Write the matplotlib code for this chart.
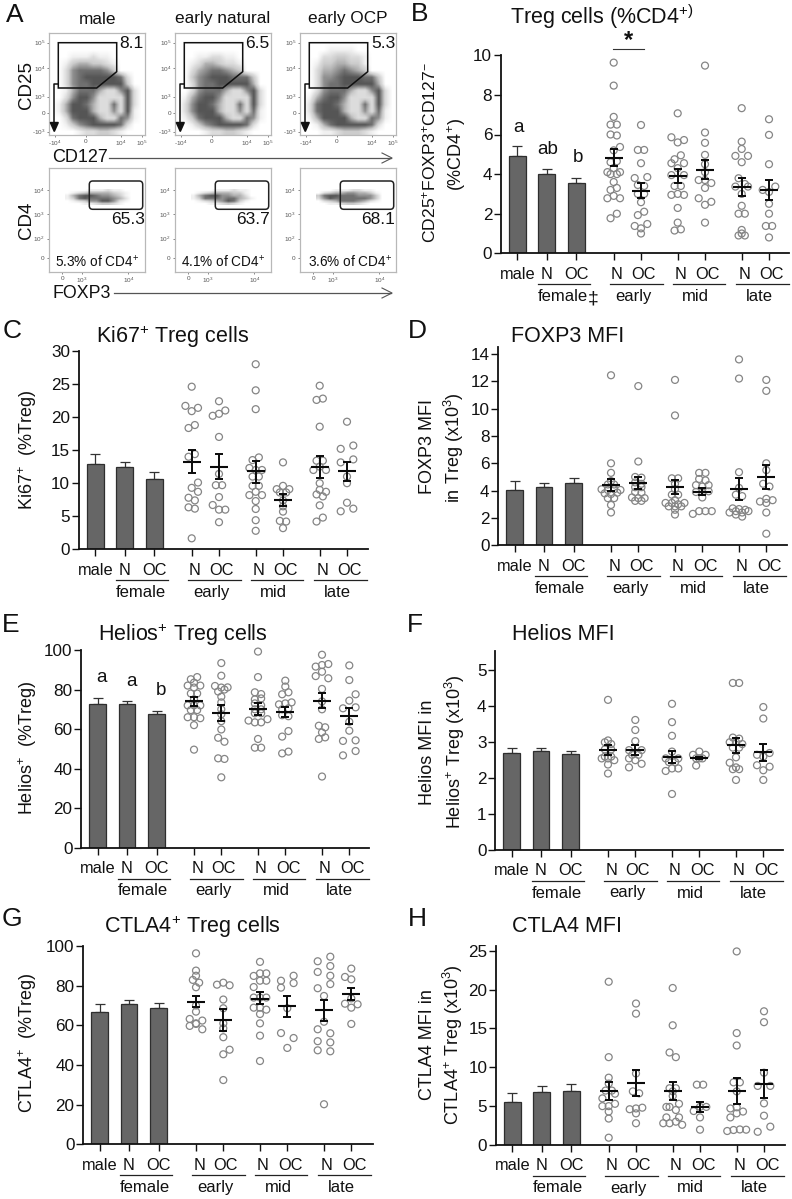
import matplotlib
matplotlib.use("Agg")
import matplotlib.pyplot as plt
import numpy as np
from matplotlib.colors import LinearSegmentedColormap
from matplotlib.patches import FancyBboxPatch, Polygon
from matplotlib.transforms import ScaledTranslation

plt.rcParams['font.family'] = ['Liberation Sans', 'DejaVu Sans']
plt.rcParams['mathtext.fontset'] = 'custom'
plt.rcParams['mathtext.rm'] = 'Liberation Sans'
plt.rcParams['mathtext.it'] = 'Liberation Sans:italic'
plt.rcParams['mathtext.bf'] = 'Liberation Sans:bold'
plt.rcParams['mathtext.default'] = 'regular'

W, H = 792, 1199
TICK_LABELS = ['male', 'N', 'OC', 'N', 'OC', 'N', 'OC', 'N', 'OC']
GROUP_NAMES = ['female', 'early', 'mid', 'late']

# ---------- data: bars (mean, top of error) ----------
B_BAR = [4.93, 4.03, 3.53];  B_BAR_TOP = [5.4, 4.25, 3.8]
C_BAR = [12.85, 12.45, 10.7]; C_BAR_TOP = [14.35, 13.25, 11.65]
D_BAR = [4.08, 4.25, 4.55];  D_BAR_TOP = [4.68, 4.55, 4.9]
E_BAR = [72.5, 72.7, 67.6];  E_BAR_TOP = [75.8, 74.2, 69.0]
F_BAR = [2.70, 2.76, 2.68];  F_BAR_TOP = [2.85, 2.83, 2.76]
G_BAR = [66.5, 70.7, 68.5];  G_BAR_TOP = [70.5, 72.8, 71.5]
H_BAR = [5.5, 6.85, 6.95];   H_BAR_TOP = [6.7, 7.55, 7.9]

# ---------- data: mean, low, high of each scatter group ----------
B_MEAN = [4.8, 3.17, 3.88, 4.22, 3.35, 3.2]
B_LOW = [4.4, 2.8, 3.55, 3.75, 2.9, 2.7]
B_HIGH = [5.25, 3.55, 4.25, 4.7, 3.8, 3.7]
C_MEAN = [13.2, 12.5, 11.8, 7.4, 12.5, 11.8]
C_LOW = [11.5, 10.6, 10.1, 6.5, 10.8, 10.4]
C_HIGH = [15.0, 14.4, 13.4, 8.3, 14.1, 13.2]
D_MEAN = [4.4, 4.55, 4.3, 3.92, 4.12, 5.0]
D_LOW = [3.95, 4.1, 3.75, 3.7, 3.3, 4.1]
D_HIGH = [4.85, 5.0, 4.8, 4.2, 4.95, 5.9]
E_MEAN = [74.3, 68.0, 70.2, 68.8, 74.3, 66.6]
E_LOW = [71.8, 64.0, 67.0, 66.0, 70.5, 62.5]
E_HIGH = [76.3, 72.0, 73.0, 71.3, 78.3, 70.7]
F_MEAN = [2.78, 2.78, 2.6, 2.56, 2.92, 2.72]
F_LOW = [2.65, 2.65, 2.43, 2.53, 2.7, 2.47]
F_HIGH = [2.92, 2.92, 2.75, 2.6, 3.12, 2.95]
G_MEAN = [72.0, 62.5, 73.5, 69.5, 67.5, 76.0]
G_LOW = [69.0, 57.0, 70.5, 64.0, 62.0, 73.0]
G_HIGH = [75.0, 68.0, 76.8, 74.8, 73.0, 79.0]
H_MEAN = [7.0, 7.95, 6.9, 4.85, 7.0, 7.85]
H_LOW = [5.85, 6.25, 5.75, 4.2, 5.3, 6.05]
H_HIGH = [8.1, 9.6, 8.1, 5.5, 8.6, 9.65]

# ---------- data: individual values, row by row (None = empty slot in a row) ----------
B_POINTS = [
    [[9.63], [8.47], [6.89], [6.5, 6.5], [6.0, 5.95], [None, None, 5.37], [5.2], [4.6, 4.65], [4.1, 4.3, 4.1],
     [4.0, 4.0], [3.6], [3.2, 3.3], [2.78, 2.9, 2.78], [1.77, 2.0]],
    [[6.48], [5.22, 5.22], [4.55], [3.8, None, 3.85], [3.45, 3.4], [3.0, 3.0], [2.58], [1.93, 2.1],
     [1.38, 1.26, 1.48], [1.0]],
    [[7.07], [5.86, 5.6, 5.72], [4.75, 4.95], [4.55, 4.3, 4.55], [3.95, None, 3.95], [3.4, 3.4], [2.95, 3.0, 2.95],
     [2.29], [1.55], [1.15, 1.21]],
    [[9.48], [6.1], [5.58], [4.97], [4.5], [4.1], [3.7, 3.7, 3.55], [3.3], [2.78, None, 2.6], [2.45], [1.55]],
    [[7.33], [5.64], [5.27], [4.92, None, 4.92], [4.6], [3.79, 3.5], [3.37, None, 3.37], [3.0], [2.4], [2.0, 2.0],
     [1.18], [0.9, 0.9], [1.0]],
    [[6.77], [5.98], [4.5], [3.2, 3.1, 3.37], [2.5], [2.0], [1.38, 1.38], [0.8]],
]
C_POINTS = [
    [[24.6], [21.7, 20.9, 21.4], [18.35, 18.8], [14.0, 14.4], [None, None, 10.1], [None, 9.3, 8.7], [7.8, 7.4],
     [6.35, 6.15], [1.66]],
    [[22.4], [20.2, 20.5, 21.0], [17.0], [11.4], [9.7, 9.7], [7.9], [6.7, 6.0, 6.0], [4.1]],
    [[28.0], [24.05], [21.2], [13.5, 13.9], [12.3, 12.0, 12.0], [11.0, 11.0], [9.6, 9.6], [8.2, 8.7, 8.2],
     [7.3], [6.1], [4.4], [2.8]],
    [[13.15], [9.1, 9.6, 9.1], [8.6, 8.6], [7.4], [6.5], [5.7], [4.3, 4.2], [3.2]],
    [[24.75], [22.6, 22.8], [18.55], [13.4, 13.4], [12.0, 12.5, 12.0], [10.0], [None, 9.0, 8.7], [8.3, 8.0],
     [6.65], [4.2, 4.8]],
    [[19.3], [15.2, None, 15.7], [13.15, None, 13.6], [11.0], [10.0], [7.05], [5.75, None, 6.15]],
]
D_POINTS = [
    [[12.44], [6.0], [5.3], [4.7], [4.45, 4.45], [4.1, 4.05, 4.1, 4.05], [3.8, 3.75, 3.85], [3.45, 3.45], [2.95], [2.4]],
    [[11.65], [6.13], [5.0, 4.95], [4.6, 4.5], [4.25, 4.25], [3.9, 3.85], [3.5, 3.45, 3.45], [3.25, 3.25]],
    [[12.1], [9.5], [4.9, 4.9], [4.5], [4.1], [3.7, 3.7], [3.3], [3.1, 3.1, 3.0, 3.1], [2.85, 2.85, 2.85], [2.6], [2.25]],
    [[5.3, 5.3], [4.85, 4.75], [4.4, 4.3, 4.4], [3.9, 3.9, 3.95], [3.5], [2.3, 2.5, 2.5, 2.5]],
    [[13.6], [12.2], [5.35], [4.2], [3.7, 3.6], [2.7, 2.65, 2.6], [2.4, 2.5, 2.4, 2.5], [2.25, 2.1]],
    [[12.1], [11.3], [6.0], [5.5], [4.5, 4.3], [3.2, 3.4, 3.3], [3.1], [2.4], [0.85]],
]
E_POINTS = [
    [[85.2, 86.3], [83.5], [82, 81, 82], [78, 78], [75], [72, 72, 72], [69.6, 69.6], [66, 66, 65.5], [62], [49.6]],
    [[93.4], [87], [81.8, 81, 81.1], [79, 80], [76.4], [73.5], [70], [67.5], [64], [59.8], [55.6, 53.6], [45.2, 44.9], [35.6]],
    [[99.2], [86.3], [78.6, 77.7], [75, 75.5], [73, 72], [70, 70], [68, 68], [64.3, 63.4, 63.4, 65], [55], [50.6, 50.6]],
    [[84.5], [81.5], [77.6, 78.6], [72.5, 73, 73.5], [70, 70.5], [67, 66.5], [56.2, 59], [47.7, 48.6]],
    [[97.6], [91.6, 92.4, 92.9], [89], [86.8, None, 85.7], [80.3], [74], [70], [61.7, 60.9], [58.3], [55, 55.8], [36]],
    [[92.2], [84.8], [None, None, 77.6], [74.4], [70.5, None, 71], [63.7], [59.2], [54, None, 54.3], [None, None, 48.9], [46.7, None, None]],
]
F_POINTS = [
    [[4.18], [3.05], [3.0, 2.95], [2.8, 2.8], [2.6, 2.6], [2.55, 2.55, 2.5], [2.38], [2.13]],
    [[3.62], [3.34], [3.03], [2.78, None, 2.78], [2.65, 2.65], [2.55, 2.5, 2.4], [2.3, None, None]],
    [[4.07], [3.56], [3.18], [2.74], [2.55, None, 2.55], [2.45, 2.45], [2.2, 2.27, 2.27], [1.56]],
    [[2.74], [2.65, None, 2.65], [2.55, 2.55], [2.55], [2.35, None]],
    [[4.65, 4.65], [3.13, 3.1], [3.0, 3.0, 2.95], [2.85, 2.85], [2.58], [2.43, None, None], [2.3], [2.25, 2.25], [1.95]],
    [[3.98], [3.66], [2.65, 2.6, 2.7], [2.36, None, 2.32], [2.22], [1.95]],
]
G_POINTS = [
    [[96.3], [87.6], [85], [82.9, 81.5], [79.2], [70], [66.9], [63.2, None, 62.4], [61], [59.7, 60.7, 58]],
    [[80.5, 81.5, 80.2], [73], [68.6], [61], [58.5], [54], [None, None, 47.7], [45.4], [32.4]],
    [[92], [84.9, 86.2, 86.2], [None, 82.5, 82.5], [79.3, None, None], [74, 74, 74], [68.9, 68.9, 67.9], [65.7], [61], [54.8], [42]],
    [[82.5, None, 85], [79, None, 81.3], [68.6], [56.1, None, 53.6], [48.6]],
    [[92.3, None, 94.6], [None, None, 89.9], [86.9, None, 85], [None, None, 80.8], [78.7, None, None], [74.8], [61.8],
     [58, None, 56], [52, None, 51.4], [47.4, None, 46.9], [20.2]],
    [[88.6], [84.4, None, None], [83.2], [73.6], [70.9, None, 70.6], [68.9], [60.7]],
]
H_POINTS = [
    [[21], [11.3], [8.66], [7.9], [7.0, 7.0], [6.0, None, 6.6], [5.0, 5.0, 5.3], [4.3], [3.4], [0.94]],
    [[18.2], [16.9], [9.2], [6.9, 6.65], [4.6, 4.7, 4.8], [4.07], [2.8]],
    [[20.2], [15.4], [11.9, 11.3], [7.3, 7.3], [6.9], [6.3], [4.9, None, 5.3], [4.9, 4.5], [3.55, None, 3.55], [2.8, 2.8, 3.0, 2.6]],
    [[7.76, 7.76], [4.37, 4.9, 4.9], [3.55], [1.97]],
    [[24.9], [14.4], [12.8], [8.06, 8.06], [6.9], [4.7, 4.85, 4.3], [4.07], [3.55, None, None], [1.8, 1.93, 2.0, 1.97]],
    [[17.2], [15.8], [9.3], [7.6, None, 7.6], [5.36], [3.77], [None, None, 2.36], [1.7, None, None]],
]

# ---------- data: darkness of the flow plots (0 white ... 9 black) ----------
FLOW_TOP_MALE = ["00000000000000", "00000000000000", "00000000000000",
                 "00011121100000", "00134433210000", "00256666530000", "00256777776200",
                 "00256677777300", "00146664225720", "00257752222720", "01477642262720",
                 "01477742252710", "00267774226510", "00135677776200", "00001223321000"]
FLOW_TOP_NATURAL = ["00000000000000", "00000000000000", "00000000000000",
                    "00011221100000", "00124432210000", "00245665430000", "00356777666300",
                    "00256677777400", "00256664225720", "01467752222720", "02577642262720",
                    "02577742252610", "01367774226510", "00135677776200", "00001223321000"]
FLOW_TOP_OCP = ["00000000000000", "00000000000000", "00001111000000",
                "00022332210000", "00133443310000", "00244565430000", "00255677766300",
                "00256677777400", "00256664225720", "01467752222720", "02677642262720",
                "02677742252610", "01477774226510", "00146777776200", "00011233321000"]
FLOW_BOTTOM_MALE = ["000011121100", "012344443210", "146776554310",
                    "136766665420", "012355775210", "000112332100"]
FLOW_BOTTOM_NATURAL = ["000011121100", "012344433100", "146775544200",
                       "136665664310", "012345763100", "000112321000"]
FLOW_BOTTOM_OCP = ["000111221100", "023445544310", "367766655530",
                   "257666666530", "023466654210", "001123321000"]

FLOW_TOP_VALUES = ['8.1', '6.5', '5.3']
FLOW_BOTTOM_VALUES = ['65.3', '63.7', '68.1']
FLOW_PERCENTS = ['5.3% of CD4$^{+}$', '4.1% of CD4$^{+}$', '3.6% of CD4$^{+}$']
FLOW_TITLES = ['male', 'early natural', 'early OCP']

# ---------- layout ----------
fig = plt.figure(figsize=(W / 100, H / 100), dpi=100, facecolor='white')
OFFS = [16.3, 45.7, 75.3, 112.7, 140.0, 176.7, 204.0, 240.7, 268.0]
LABEL_DX = [0, 0, 0, 3.3, 2.7, 3, 3, 2.5, 3]
GROUP_SPANS = [(37, 89), (108.7, 161.7), (171.7, 224), (234.7, 287.7)]
GROUP_CENTERS = [62, 132, 194.7, 258.3]
STEP = 6.3

ov = fig.add_axes([0, 0, 1, 1], zorder=10)
ov.set_xlim(0, W); ov.set_ylim(H, 0); ov.axis('off'); ov.patch.set_alpha(0)


def txt(x, y, s, size=11.5, **kw):
    kw.setdefault('ha', 'center'); kw.setdefault('va', 'center')
    ov.text(x, y, s, fontsize=size, color=kw.pop('color', '#111111'), **kw)


def panel(x0, y0, top, right, ymax, yticks, bars, bar_tops, means, lows, highs, points):
    ax = fig.add_axes([x0 / W, 1 - y0 / H, (right - x0) / W, (y0 - top) / H])
    ax.set_xlim(0, right - x0); ax.set_ylim(0, ymax)
    ax.patch.set_alpha(0)
    for s in ('top', 'right'):
        ax.spines[s].set_visible(False)
    for s in ('left', 'bottom'):
        ax.spines[s].set_linewidth(1.3); ax.spines[s].set_color('#111111')
    ax.bar(OFFS[:3], bars, width=16.5, color='#666666', edgecolor='#2e2e2e', linewidth=0.9, zorder=2)
    for x, b, t in zip(OFFS[:3], bars, bar_tops):
        ax.errorbar([x], [b], yerr=[[0], [t - b]], color='#333333', elinewidth=0.9, capsize=3.3, capthick=0.9, zorder=1)
    for k, rows in enumerate(points):
        cx = OFFS[3 + k]
        xs, ys = [], []
        for row in rows:
            n = len(row)
            for i, v in enumerate(row):
                if v is not None:
                    xs.append(cx + (i - (n - 1) / 2) * STEP); ys.append(v)
        ax.scatter(xs, ys, s=25, facecolors='none', edgecolors='#858585', linewidths=0.9, zorder=3, clip_on=False)
        ax.errorbar([cx], [means[k]], yerr=[[means[k] - lows[k]], [highs[k] - means[k]]], color='#0a0a0a',
                    elinewidth=1.4, capsize=3.0, capthick=1.4, zorder=4)
        ax.hlines(means[k], cx - 9, cx + 9, color='#0a0a0a', lw=1.5, zorder=4)
    ax.set_yticks(yticks)
    ax.tick_params(axis='y', length=4.8, width=1.0, labelsize=12.3, pad=1.5, colors='#111111')
    ax.set_xticks(OFFS)
    ax.set_xticklabels(TICK_LABELS)
    ax.tick_params(axis='x', length=4.8, width=1.0, labelsize=11.8, pad=4.8, colors='#111111')
    for lbl, dx in zip(ax.get_xticklabels(), LABEL_DX):
        lbl.set_transform(lbl.get_transform() + ScaledTranslation(dx / 100, 0, fig.dpi_scale_trans))
    for (a, b), c, name in zip(GROUP_SPANS, GROUP_CENTERS, GROUP_NAMES):
        ov.plot([x0 + a, x0 + b], [y0 + 31, y0 + 31], color='#222222', lw=0.9)
        txt(x0 + c, y0 + 43, name, 12)
    return ax


panel(501, 253.3, 55.3, 789, 10, range(0, 11, 2), B_BAR, B_BAR_TOP, B_MEAN, B_LOW, B_HIGH, B_POINTS)
panel(79, 549.3, 351, 367.7, 30, range(0, 31, 5), C_BAR, C_BAR_TOP, C_MEAN, C_LOW, C_HIGH, C_POINTS)
panel(498.3, 545.3, 346.7, 786.7, 14.53, range(0, 15, 2), D_BAR, D_BAR_TOP, D_MEAN, D_LOW, D_HIGH, D_POINTS)
panel(81.3, 847.7, 650, 369, 100, range(0, 101, 20), E_BAR, E_BAR_TOP, E_MEAN, E_LOW, E_HIGH, E_POINTS)
panel(495.3, 850, 651, 783, 5.54, range(0, 6), F_BAR, F_BAR_TOP, F_MEAN, F_LOW, F_HIGH, F_POINTS)
panel(83.3, 1144.3, 946, 373, 100, range(0, 101, 20), G_BAR, G_BAR_TOP, G_MEAN, G_LOW, G_HIGH, G_POINTS)
panel(496, 1145, 946, 785, 25.6, range(0, 26, 5), H_BAR, H_BAR_TOP, H_MEAN, H_LOW, H_HIGH, H_POINTS)

# ---------- titles, axis titles, letters ----------
TITLE = 15.5
txt(601.7, 17, 'Treg cells (%CD4$^{+)}$', TITLE)
txt(173, 337, 'Ki67$^{+}$ Treg cells', TITLE)
txt(567.7, 337, 'FOXP3 MFI', TITLE)
txt(183, 635, 'Helios$^{+}$ Treg cells', TITLE)
txt(563, 635, 'Helios MFI', TITLE)
txt(192, 927, 'CTLA4$^{+}$ Treg cells', TITLE)
txt(567, 927, 'CTLA4 MFI', TITLE)

YL = 13
txt(429, 153, 'CD25$^{+}$FOXP3$^{+}$CD127$^{-}$', 12.6, rotation=90)
txt(457, 155, '(%CD4$^{+}$)', YL, rotation=90)
txt(28, 450, 'Ki67$^{+}$  (%Treg)', YL, rotation=90)
txt(427, 447, 'FOXP3 MFI', YL, rotation=90)
txt(454, 448, 'in Treg (x10$^{3}$)', YL, rotation=90)
txt(28, 748, 'Helios$^{+}$  (%Treg)', YL, rotation=90)
txt(428, 752, 'Helios MFI in', YL, rotation=90)
txt(455, 752, 'Helios$^{+}$ Treg (x10$^{3}$)', YL, rotation=90)
txt(28, 1043, 'CTLA4$^{+}$  (%Treg)', YL, rotation=90)
txt(428, 1045, 'CTLA4 MFI in', YL, rotation=90)
txt(453, 1045, 'CTLA4$^{+}$ Treg (x10$^{3}$)', YL, rotation=90)

for s, x, y in [('A', 15, 15), ('B', 420, 14), ('C', 12, 331), ('D', 417, 331),
                ('E', 11, 625), ('F', 415, 625), ('G', 12, 919), ('H', 417, 919)]:
    txt(x, y, s, 19)

# annotations on B and E
txt(518, 127, 'a', 13.5); txt(547.7, 150, 'ab', 13.5); txt(578, 157, 'b', 13.5)
txt(593, 299, '‡', 14)
txt(628, 41, '*', 17, fontweight='bold')
ov.plot([612.7, 644], [49.3, 49.3], color='#333333', lw=0.8)
txt(101.7, 677, 'a', 13.5); txt(131.7, 681, 'a', 13.5); txt(161.3, 690.7, 'b', 13.5)

# ---------- panel A ----------
flow_cmap = LinearSegmentedColormap.from_list('flow', ['#ffffff', '#f0f0f0', '#dcdcdc', '#cccccc', '#b0b0b0',
                                                       '#909090', '#707070', '#565656', '#3a3a3a', '#1c1c1c'])


def grid(rows):
    return np.array([[int(c) for c in r] for r in rows], float)


def flow_axes(left, right, top, bottom, xt, xl, yt, yl):
    ax = fig.add_axes([left / W, 1 - bottom / H, (right - left) / W, (bottom - top) / H])
    ax.set_xlim(0, 1); ax.set_ylim(0, 1)
    for s in ax.spines.values():
        s.set_color('#b8b8b8'); s.set_linewidth(0.9)
    ax.set_xticks(xt); ax.set_xticklabels(xl)
    ax.set_yticks(yt); ax.set_yticklabels(yl)
    ax.tick_params(length=1.5, width=0.5, labelsize=4.6, pad=1.5, color='#555555', labelcolor='#555555')
    return ax


TOP_X = [0.06, 0.38, 0.745, 0.965]; TOP_XL = ['-10$^{4}$', '0', '10$^{4}$', '10$^{5}$']
TOP_Y = [0.033, 0.213, 0.377, 0.656, 0.908]; TOP_YL = ['-10$^{3}$', '0', '10$^{3}$', '10$^{4}$', '10$^{5}$']
BOT_X = [0.139, 0.34, 0.826]; BOT_XL = ['0', '10$^{3}$', '10$^{4}$']
BOT_Y = [0.139, 0.323, 0.558, 0.79]; BOT_YL = ['0', '10$^{2}$', '10$^{3}$', '10$^{4}$']
FRAMES = [0, 126, 251]

for dx, g, g2, v1, v2, pct, title, px, tx, bx, gx in zip(
        FRAMES, [FLOW_TOP_MALE, FLOW_TOP_NATURAL, FLOW_TOP_OCP],
        [FLOW_BOTTOM_MALE, FLOW_BOTTOM_NATURAL, FLOW_BOTTOM_OCP],
        FLOW_TOP_VALUES, FLOW_BOTTOM_VALUES, FLOW_PERCENTS, FLOW_TITLES,
        [97, 223, 350], [131, 257, 383], [128, 253, 378], [98, 222.7, 347.7]):
    a = flow_axes(49.3 + dx, 145 + dx, 33.3, 135, TOP_X, TOP_XL, TOP_Y, TOP_YL)
    a.imshow(grid(g), extent=[0, 1, 0, 1], aspect='auto', cmap=flow_cmap, vmin=0, vmax=9, interpolation='bilinear')
    b = flow_axes(49 + dx, 145 + dx, 168.3, 272, BOT_X, BOT_XL, BOT_Y, BOT_YL)
    b.imshow(grid(g2), extent=[0.17, 0.88, 0.65, 0.80], aspect='auto', cmap=flow_cmap, vmin=0, vmax=9, interpolation='bilinear')
    b.set_xlim(0, 1); b.set_ylim(0, 1)
    # gates
    ov.add_patch(Polygon([(58.3 + dx, 42.7), (116.7 + dx, 42.7), (116.7 + dx, 71.7), (96.7 + dx, 88), (58.3 + dx, 88)],
                         closed=True, fill=False, edgecolor='#111111', lw=1.1))
    ov.plot([58.3 + dx, 54.3 + dx, 54.3 + dx], [84, 84, 124], color='#111111', lw=1.1)
    ov.add_patch(Polygon([(50.3 + dx, 122.5), (58.3 + dx, 122.5), (54.3 + dx, 131.5)], closed=True, color='#111111'))
    ov.add_patch(FancyBboxPatch((92.8 + dx, 184.5), 46.4, 21.3, boxstyle='round,pad=3.5,rounding_size=3.5',
                                fill=False, edgecolor='#222222', lw=1.1))
    txt(tx, 43, v1, 12.5)
    txt(bx, 220, v2, 12.5)
    txt(px, 262, pct, 9.8)
    txt(gx, 19, title, 12.4)

txt(27, 85, 'CD25', 13.5, rotation=90)
txt(27, 220, 'CD4', 13.5, rotation=90)
txt(52, 158, 'CD127', 13, ha='left')
txt(52, 293, 'FOXP3', 12.8, ha='left')
for x0, y in [(109, 158), (114, 293)]:
    ov.plot([x0, 391], [y, y], color='#555555', lw=0.9)
    ov.plot([382, 392, 382], [y - 5, y, y + 5], color='#555555', lw=0.8)

fig.savefig('out.png', dpi=100)
